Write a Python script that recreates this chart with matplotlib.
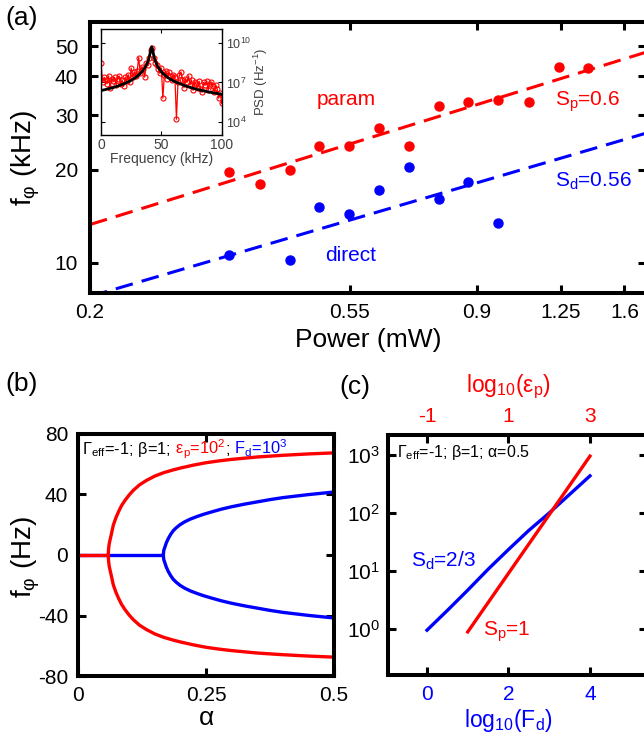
import numpy as np
import matplotlib
matplotlib.use('Agg')
import matplotlib.pyplot as plt
from matplotlib.ticker import FixedLocator, NullLocator, FixedFormatter, LogFormatterMathtext

plt.rcParams['font.family'] = ['Liberation Sans', 'DejaVu Sans']
plt.rcParams['mathtext.fontset'] = 'custom'
plt.rcParams['mathtext.rm'] = 'Liberation Sans'
plt.rcParams['mathtext.it'] = 'Liberation Sans:italic'
plt.rcParams['mathtext.bf'] = 'Liberation Sans:bold'
plt.rcParams['axes.unicode_minus'] = False

RED = '#ff0000'
BLUE = '#0000ff'

# ---------------- data: panel (a) ----------------
power_param = [0.344, 0.387, 0.435, 0.488, 0.548, 0.615, 0.693, 0.777, 0.872, 0.979, 1.103, 1.238, 1.389]
f_param = [19.6, 18.0, 20.0, 23.8, 23.8, 27.3, 23.8, 32.2, 33.1, 33.6, 33.0, 42.9, 42.6]
power_direct = [0.344, 0.435, 0.488, 0.548, 0.615, 0.693, 0.777, 0.872, 0.979]
f_direct = [10.6, 10.2, 15.1, 14.4, 17.2, 20.4, 16.1, 18.3, 13.5]
fit_power = [0.2, 1.75]
fit_param = [13.3, 48.0]
fit_direct = [7.8, 26.3]
power_ticks = [0.2, 0.55, 0.9, 1.25, 1.6]
power_ticklabels = ['0.2', '0.55', '0.9', '1.25', '1.6']
f_ticks = [10, 20, 30, 40, 50]

# inset spectrum (log10 PSD), 0..100 kHz
psd_log = [8.5, 7.0, 7.4, 7.2, 6.9, 7.5, 6.6, 7.3, 7.1, 7.4, 6.8, 7.3, 7.5, 6.9, 7.2, 6.7,
           7.4, 7.1, 7.6, 7.0, 8.1, 7.4, 7.8, 7.5, 7.9, 8.9, 7.7, 8.2, 8.0, 7.4, 8.5, 8.3,
           8.9, 9.5, 9.6, 8.9, 8.5, 8.3, 8.0, 7.7, 8.1, 5.8, 7.6, 7.9, 7.3, 7.8, 7.5, 7.2,
           7.6, 7.4, 4.2, 7.0, 7.6, 7.8, 7.2, 6.6, 7.3, 7.0, 7.5, 6.8, 7.2, 6.4, 7.0, 6.9,
           6.6, 7.1, 6.5, 6.3, 7.0, 6.8, 7.1, 6.4, 6.9, 7.0, 6.7, 6.3, 6.8, 6.5, 5.8, 6.2, 5.4]
psd_freq = np.linspace(0, 100, len(psd_log))
fit_freq = [0, 5, 10, 15, 20, 25, 30, 34, 37, 39, 40, 41, 41.5, 42, 42.5, 43, 44, 45, 47, 50,
            55, 60, 70, 80, 90, 100]
fit_log = [6.38, 6.49, 6.61, 6.76, 6.94, 7.16, 7.46, 7.81, 8.21, 8.63, 8.94, 9.37, 9.60, 9.72,
           9.60, 9.37, 8.94, 8.63, 8.21, 7.81, 7.39, 7.11, 6.73, 6.46, 6.26, 6.10]

# ---------------- data: panel (b) ----------------
alpha_red = [0.0592, 0.0595, 0.0600, 0.061, 0.0625, 0.065, 0.069, 0.074, 0.079, 0.085, 0.092,
             0.100, 0.108, 0.12, 0.134, 0.15, 0.167, 0.185, 0.20, 0.225, 0.25, 0.275, 0.30,
             0.35, 0.40, 0.45, 0.50]
f_red = [0, 3.0, 4.8, 7.5, 9.8, 13.5, 19.7, 24.5, 28.4, 32.5, 36.1, 39.6, 42.6, 46.2, 49.2,
         52.0, 54.2, 56.0, 57.3, 59.2, 60.8, 62.0, 63.0, 64.6, 65.7, 66.6, 67.3]
alpha_blue = [0.1667, 0.1675, 0.170, 0.1725, 0.1764, 0.181, 0.186, 0.192, 0.199, 0.208, 0.219,
              0.232, 0.245, 0.26, 0.28, 0.30, 0.325, 0.35, 0.375, 0.40, 0.45, 0.50]
f_blue = [0, 3.0, 5.5, 8.0, 10.9, 13.6, 16.0, 18.0, 19.9, 21.8, 23.6, 25.3, 26.8, 28.3, 30.2,
          31.8, 33.5, 35.0, 36.5, 37.8, 39.8, 41.5]

# ---------------- data: panel (c) ----------------
logFd = [0, 0.5, 1, 1.5, 2, 2.5, 3, 3.5, 4]
logf_d = [-0.02, 0.32, 0.67, 1.03, 1.37, 1.70, 2.0, 2.32, 2.64]
logEp = [0, 1, 2, 3]
logf_p = [-0.05, 0.96, 1.97, 2.98]

# ---------------- figure ----------------
W, H = 644, 733
fig = plt.figure(figsize=(W / 100, H / 100), dpi=100)


def rect(l, r, t, b):
    return [l / W, 1 - b / H, (r - l) / W, (b - t) / H]


def style(ax, xpad=7, ypad=8, fs=15, lw=2.9, tl=5.5, tw=2.2):
    for s in ax.spines.values():
        s.set_linewidth(lw)
    ax.tick_params(which='major', direction='in', length=tl, width=tw, labelsize=fs,
                   top=True, right=True)
    ax.tick_params(axis='x', pad=xpad)
    ax.tick_params(axis='y', pad=ypad)
    ax.tick_params(which='minor', length=0)


def ftext(x, y, s, **kw):
    fig.text(x / W, 1 - y / H, s, ha='center', va='center', **kw)


# ---- panel (a)
axA = fig.add_axes(rect(90, 646, 21.7, 293))
axA.set_xscale('log')
axA.set_yscale('log')
axA.plot(fit_power, fit_param, '--', color=RED, lw=2.2, dashes=(5.8, 3), zorder=2)
axA.plot(fit_power, fit_direct, '--', color=BLUE, lw=2.2, dashes=(5.8, 3), zorder=2)
axA.plot(power_param, f_param, 'o', color=RED, ms=6.5, zorder=3)
axA.plot(power_direct, f_direct, 'o', color=BLUE, ms=6.5, zorder=3)
axA.set_xlim(0.2, 1.74)
axA.set_ylim(8.0, 60.0)
axA.xaxis.set_major_locator(FixedLocator(power_ticks))
axA.xaxis.set_major_formatter(FixedFormatter(power_ticklabels))
axA.xaxis.set_minor_locator(NullLocator())
axA.yaxis.set_major_locator(FixedLocator(f_ticks))
axA.yaxis.set_major_formatter(FixedFormatter([str(v) for v in f_ticks]))
axA.yaxis.set_minor_locator(NullLocator())
style(axA, xpad=7.5, ypad=8.5)
axA.text(0.541, 33.6, 'param', color=RED, fontsize=15, ha='center', va='center')
axA.text(1.22, 33.2, 'S$_\\mathregular{p}$=0.6', color=RED, fontsize=15, ha='left', va='center')
axA.text(1.22, 18.35, 'S$_\\mathregular{d}$=0.56', color=BLUE, fontsize=15, ha='left', va='center')
axA.text(0.499, 10.56, 'direct', color=BLUE, fontsize=15, ha='left', va='center')

ftext(26, 158, 'f$_\\mathregular{φ}$ (kHz)', fontsize=20, rotation=90)
ftext(368, 340, 'Power (mW)', fontsize=19)
ftext(22, 18, '(a)', fontsize=19)

# ---- inset
GRAY = '#404040'
axI = fig.add_axes(rect(101, 221.7, 29, 135))
axI.set_yscale('log')
axI.plot(psd_freq, [10 ** v for v in psd_log], '-o', color=RED, lw=0.9, ms=3.6, mfc='none',
         mew=0.8, zorder=2)
axI.plot(fit_freq, [10 ** v for v in fit_log], '-', color='black', lw=2.0, zorder=3)
axI.set_xlim(0, 100)
axI.set_ylim(1e3, 10 ** 11.07)
axI.xaxis.set_major_locator(FixedLocator([0, 50, 100]))
axI.yaxis.set_major_locator(FixedLocator([1e4, 1e7, 1e10]))
axI.yaxis.set_major_formatter(LogFormatterMathtext())
axI.yaxis.set_minor_locator(NullLocator())
for s in axI.spines.values():
    s.set_linewidth(1.0)
axI.tick_params(which='major', direction='in', length=3, width=0.8, labelsize=10,
                top=True, right=True, left=True, labelleft=False, labelright=True,
                pad=2, colors='black', labelcolor=GRAY)
axI.tick_params(axis='y', labelsize=9, pad=3)
axI.set_xlabel('Frequency (kHz)', fontsize=10, color=GRAY, labelpad=0)
axI.yaxis.set_label_position('right')
axI.set_ylabel('PSD (Hz$^{\\mathregular{-1}}$)', fontsize=9.5, color=GRAY, labelpad=0)

# ---- panel (b)
axB = fig.add_axes(rect(78, 334, 433.6, 676.4))
axB.plot([0, alpha_blue[0]], [0, 0], color=BLUE, lw=2.4, solid_capstyle='butt')
axB.plot(alpha_blue, f_blue, color=BLUE, lw=2.4)
axB.plot(alpha_blue, [-v for v in f_blue], color=BLUE, lw=2.4)
axB.plot([0, alpha_red[0]], [0, 0], color=RED, lw=2.4, solid_capstyle='butt')
axB.plot(alpha_red, f_red, color=RED, lw=2.4)
axB.plot(alpha_red, [-v for v in f_red], color=RED, lw=2.4)
axB.set_xlim(0, 0.5)
axB.set_ylim(-80, 80)
axB.xaxis.set_major_locator(FixedLocator([0, 0.25, 0.5]))
axB.xaxis.set_major_formatter(FixedFormatter(['0', '0.25', '0.5']))
axB.yaxis.set_major_locator(FixedLocator([-80, -40, 0, 40, 80]))
style(axB, xpad=7, ypad=7)
ftext(26, 557, 'f$_\\mathregular{φ}$ (Hz)', fontsize=20, rotation=90)
ftext(206, 718, 'α', fontsize=19)
ftext(22, 384, '(b)', fontsize=19)

renderer = fig.canvas.get_renderer()


def multicolor(ax, x, y, parts, fs):
    for s, c in parts:
        t = ax.text(x, y, s, color=c, fontsize=fs, transform=ax.transAxes, ha='left',
                    va='baseline')
        bb = t.get_window_extent(renderer=renderer)
        x = ax.transAxes.inverted().transform((bb.x1, bb.y0))[0]


multicolor(axB, 0.016, 0.915,
           [('Γ$_\\mathregular{eff}$=-1; β=1;', 'black'),
            (' ε$_\\mathregular{p}$=10$^\\mathregular{2}$', RED),
            (';', 'black'),
            (' F$_\\mathregular{d}$=10$^\\mathregular{3}$', BLUE)], 11.8)

# ---- panel (c)
axC = fig.add_axes(rect(388.3, 647, 434.5, 675))
axC.set_yscale('log')
axC.plot(logFd, [10 ** v for v in logf_d], color=BLUE, lw=2.4)
axC.set_xlim(-0.95, 5.4)
axC.set_ylim(10 ** -0.793, 10 ** 3.353)
axC.xaxis.set_major_locator(FixedLocator([0, 2, 4]))
axC.yaxis.set_major_locator(FixedLocator([1, 10, 100, 1000]))
axC.yaxis.set_major_formatter(LogFormatterMathtext())
axC.yaxis.set_minor_locator(NullLocator())
style(axC, xpad=7, ypad=6)
axC.tick_params(axis='x', top=False, labelcolor=BLUE)

axC2 = axC.twiny()
axC2.plot(logEp, [10 ** v for v in logf_p], color=RED, lw=2.4)
axC2.set_xlim(-0.95 - 1, 5.4 - 1)
axC2.xaxis.set_major_locator(FixedLocator([-1, 1, 3]))
for s in axC2.spines.values():
    s.set_visible(False)
axC2.tick_params(axis='x', direction='in', length=5.5, width=2.2, labelsize=15, pad=6,
                 top=True, labeltop=True, bottom=False, labelbottom=False, labelcolor=RED)

axC.text(-0.40, 10 ** 1.07, 'S$_\\mathregular{d}$=2/3', color=BLUE, fontsize=15,
         ha='left', va='baseline')
axC2.text(1.37 - 1, 10 ** -0.12, 'S$_\\mathregular{p}$=1', color=RED, fontsize=15,
          ha='left', va='baseline')
multicolor(axC, 0.032, 0.905, [('Γ$_\\mathregular{eff}$=-1; β=1; α=0.5', 'black')], 11.5)

ftext(508, 387, 'log$_\\mathregular{10}$(ε$_\\mathregular{p}$)', fontsize=16.5, color=RED)
ftext(508, 720, 'log$_\\mathregular{10}$(F$_\\mathregular{d}$)', fontsize=16.5, color=BLUE)
ftext(355, 387, '(c)', fontsize=19)

fig.savefig('out.png', dpi=100)
